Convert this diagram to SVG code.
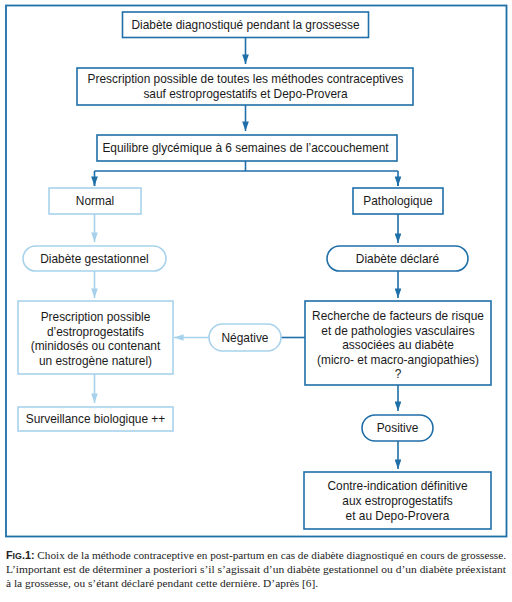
<svg xmlns="http://www.w3.org/2000/svg" width="512" height="602" viewBox="0 0 512 602">
<defs>
<style>
.d{fill:#fff;stroke:#1f6fa8;stroke-width:1.6}
.l{fill:#fff;stroke:#a8d2ec;stroke-width:1.6}
.t{font-family:"Liberation Sans",Arial,sans-serif;font-size:11.9px;fill:#1a1a1a;text-anchor:middle}
.cd{fill:none;stroke:#1f6fa8;stroke-width:1.6}
.cl{fill:none;stroke:#a8d2ec;stroke-width:1.6}
.cap{font-family:"Liberation Serif","Times New Roman",serif;font-size:11.4px;fill:#222}
.capn{font-size:10.6px}
</style>
<marker id="ad" viewBox="0 0 10 7" refX="10" refY="3.5" markerWidth="6" markerHeight="4.2" orient="auto" markerUnits="strokeWidth"><path d="M0,0L10,3.5L0,7z" fill="#1f6fa8"/></marker>
<marker id="al" viewBox="0 0 10 7" refX="10" refY="3.5" markerWidth="6" markerHeight="4.2" orient="auto" markerUnits="strokeWidth"><path d="M0,0L10,3.5L0,7z" fill="#a8d2ec"/></marker>
</defs>
<rect x="6" y="5.5" width="500.5" height="531" fill="#fff" stroke="#1f6fa8" stroke-width="1.8"/>
<g id="connectors">
<path class="cd" d="M245.5,37.5V64" marker-end="url(#ad)"/>
<path class="cd" d="M245.5,105V131" marker-end="url(#ad)"/>
<path class="cd" d="M245.5,161V171M94.5,171H398M94.5,171V186M398,171V186"/>
<path class="cd" d="M94.5,178V186" marker-end="url(#ad)"/>
<path class="cd" d="M398,178V186" marker-end="url(#ad)"/>
<path class="cl" d="M94.5,214V242" marker-end="url(#al)"/>
<path class="cl" d="M94.5,271V298" marker-end="url(#al)"/>
<path class="cl" d="M94.5,374V403" marker-end="url(#al)"/>
<path class="cd" d="M398,214V243" marker-end="url(#ad)"/>
<path class="cd" d="M398,271V298" marker-end="url(#ad)"/>
<path class="cd" d="M305,337.5H281"/>
<path class="cl" d="M209,337.5H174" marker-end="url(#al)"/>
<path class="cd" d="M398,385V411" marker-end="url(#ad)"/>
<path class="cd" d="M398,441V469" marker-end="url(#ad)"/>
</g>
<g id="n1"><rect class="d" x="122.5" y="12" width="246" height="25.5"/><text class="t" x="245.5" y="28.5">Diabète diagnostiqué pendant la grossesse</text></g>
<g id="n2"><rect class="d" x="77" y="68" width="336" height="37"/><text class="t" x="245.5" y="83">Prescription possible de toutes les méthodes contraceptives</text><text class="t" x="245.5" y="98">sauf estroprogestatifs et Depo-Provera</text></g>
<g id="n3"><rect class="d" x="97" y="135" width="300" height="26"/><text class="t" x="245.5" y="152">Equilibre glycémique à 6 semaines de l’accouchement</text></g>
<g id="n4"><rect class="l" x="49" y="188" width="92" height="26"/><text class="t" x="95" y="205">Normal</text></g>
<g id="n5"><rect class="d" x="353" y="188" width="90" height="26"/><text class="t" x="398" y="205">Pathologique</text></g>
<g id="n6"><rect class="l" x="23" y="246" width="143" height="25" rx="12.5"/><text class="t" x="94.5" y="262.5">Diabète gestationnel</text></g>
<g id="n7"><rect class="d" x="327" y="246" width="141" height="25" rx="12.5"/><text class="t" x="397.5" y="262.5">Diabète déclaré</text></g>
<g id="n8"><rect class="l" x="18" y="301" width="155" height="73"/><text class="t" x="95.5" y="321">Prescription possible</text><text class="t" x="95.5" y="335.5">d’estroprogestatifs</text><text class="t" x="95.5" y="350">(minidosés ou contenant</text><text class="t" x="95.5" y="364.5">un estrogène naturel)</text></g>
<g id="n9"><rect class="l" x="209" y="324" width="72" height="27" rx="13.5"/><text class="t" x="245" y="341.5">Négative</text></g>
<g id="n10"><rect class="d" x="305" y="301" width="186" height="84"/><text class="t" x="398" y="320">Recherche de facteurs de risque</text><text class="t" x="398" y="334.5">et de pathologies vasculaires</text><text class="t" x="398" y="349">associées au diabète</text><text class="t" x="398" y="363.5">(micro- et macro-angiopathies)</text><text class="t" x="398" y="378">?</text></g>
<g id="n11"><rect class="l" x="18" y="407" width="155" height="24"/><text class="t" x="95.5" y="423">Surveillance biologique ++</text></g>
<g id="n12"><rect class="d" x="362" y="415" width="71" height="26" rx="13"/><text class="t" x="397.5" y="432">Positive</text></g>
<g id="n13"><rect class="d" x="304" y="472" width="187" height="57"/><text class="t" x="397.5" y="490">Contre-indication définitive</text><text class="t" x="397.5" y="505">aux estroprogestatifs</text><text class="t" x="397.5" y="520">et au Depo-Provera</text></g>
<g id="caption">
<text class="cap capn" x="6" y="559" textLength="500" lengthAdjust="spacingAndGlyphs"><tspan font-family="Liberation Sans,Arial,sans-serif" font-weight="bold" font-size="10.2">F<tspan font-size="8.3">IG</tspan>.1:</tspan> Choix de la méthode contraceptive en post-partum en cas de diabète diagnostiqué en cours de grossesse.</text>
<text class="cap capn" x="6" y="573" textLength="500" lengthAdjust="spacingAndGlyphs">L’important est de déterminer a posteriori s’il s’agissait d’un diabète gestationnel ou d’un diabète préexistant</text>
<text class="cap" x="6" y="587">à la grossesse, ou s’étant déclaré pendant cette dernière. D’après [6].</text>
</g>
</svg>
